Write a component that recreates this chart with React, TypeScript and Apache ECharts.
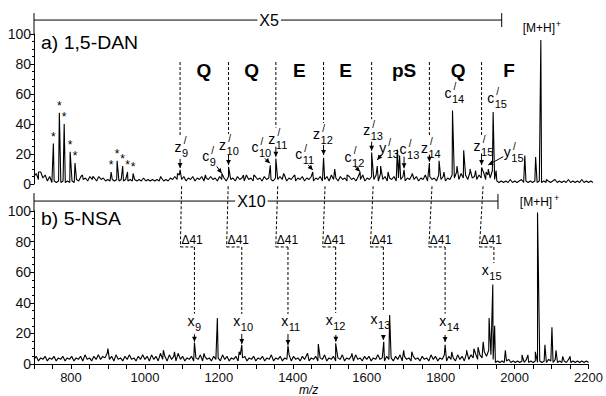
import React, { useEffect, useRef } from 'react';
import * as echarts from 'echarts';

const FONT = '"Liberation Sans", Arial, Helvetica, sans-serif';

// m/z axis
const MZ_MIN = 700;
const MZ_MAX = 2200;
const NOISE_START = 700;
const NOISE_STEP = 6;

// a) 1,5-DAN : baseline noise (one value every 6 m/z from 700)
const noiseA = [
  5, 7, 3, 8, 4, 6, 2, 5, 1, 2,
  1, 2, 1, 2, 1, 2, 1, 2, 1, 3,
  2, 5, 3, 4, 2, 5, 3, 4, 2, 5,
  3, 4, 2, 3, 2, 3, 2, 3, 2, 3,
  2, 3, 2, 3, 2, 3, 2, 3, 2, 4,
  2, 3, 2, 3, 2, 3, 2, 4, 2, 3,
  2, 4, 3, 5, 3, 6, 3, 5, 2, 4,
  3, 5, 2, 4, 3, 5, 2, 4, 3, 5,
  3, 4, 2, 5, 3, 4, 2, 5, 3, 4,
  2, 5, 3, 4, 2, 6, 3, 4, 2, 5,
  3, 4, 2, 5, 3, 4, 3, 2, 4, 3,
  5, 3, 6, 2, 4, 3, 5, 2, 4, 3,
  5, 2, 4, 3, 5, 2, 4, 3, 5, 2,
  3, 5, 2, 6, 3, 4, 2, 5, 3, 4,
  2, 5, 3, 4, 2, 5, 3, 6, 2, 4,
  3, 5, 3, 6, 2, 7, 3, 5, 2, 4,
  3, 5, 2, 4, 3, 5, 2, 4, 3, 6,
  3, 5, 2, 4, 3, 6, 2, 5, 3, 4,
  2, 6, 3, 5, 2, 4, 3, 6, 4, 8,
  3, 7, 4, 6, 3, 8, 4, 5, 3, 6,
  4, 8, 3, 6, 4, 9, 3, 2, 1, 2,
  1, 2, 1, 3, 1, 2, 1, 2, 3, 1,
  2, 1, 2, 1, 2, 1, 2, 1, 2, 1,
  2, 1, 2, 3, 1, 2, 1, 2, 1, 3,
  1, 2, 1, 2, 1, 3, 1, 2, 1, 2,
  1,
];

// a) 1,5-DAN : peaks [m/z, relative intensity]
const peaksA: [number, number][] = [
  [712, 8], [752, 27], [768, 47.5], [781, 40], [797, 21.5], [810, 14], [830, 6], [858, 5],
  [907, 8], [923, 15.5], [938, 12], [951, 8], [966, 7], [1040, 5], [1085, 7], [1092, 9.5],
  [1160, 6], [1204, 7], [1222, 11.5], [1262, 6], [1290, 6], [1334, 12.5], [1349, 17],
  [1370, 7], [1400, 6], [1448, 8], [1477, 17.5], [1507, 10], [1540, 6], [1575, 8],
  [1606, 21], [1621, 12], [1630, 12], [1650, 8], [1675, 23], [1681, 19], [1693, 9.5],
  [1715, 7], [1761, 14], [1787, 15.5], [1800, 8], [1823, 49], [1835, 12], [1853, 22.5],
  [1870, 10], [1885, 9], [1901, 11], [1913, 8], [1919, 10], [1932, 48], [1940, 9],
  [2017, 19], [2046, 18], [2060, 96], [2075, 3],
];

// peaks marked with * in panel a)
const starMzA = [752, 768, 781, 797, 810, 907, 923, 938, 951, 966];

// b) 5-NSA : baseline noise
const noiseB = [
  3, 5, 2, 4, 3, 5, 2, 4, 3, 5,
  2, 4, 3, 5, 2, 4, 3, 5, 2, 4,
  3, 5, 2, 6, 3, 4, 2, 5, 3, 6,
  3, 5, 4, 7, 3, 5, 2, 6, 3, 4,
  2, 5, 3, 6, 3, 4, 2, 5, 3, 6,
  3, 5, 2, 6, 3, 5, 2, 7, 3, 5,
  2, 6, 3, 5, 2, 7, 3, 5, 2, 4,
  3, 5, 2, 4, 3, 6, 2, 5, 3, 4,
  2, 5, 3, 4, 2, 6, 3, 5, 2, 4,
  3, 5, 2, 6, 4, 5, 2, 4, 3, 5,
  2, 4, 3, 5, 2, 4, 3, 6, 2, 4,
  3, 5, 2, 4, 3, 6, 2, 5, 3, 4,
  2, 5, 3, 6, 2, 4, 3, 5, 2, 4,
  3, 6, 2, 4, 3, 5, 2, 4, 3, 6,
  2, 4, 3, 5, 2, 6, 3, 4, 2, 5,
  3, 5, 2, 4, 3, 6, 3, 4, 2, 5,
  3, 4, 2, 5, 3, 6, 2, 5, 3, 4,
  2, 5, 3, 4, 2, 5, 3, 4, 2, 6,
  3, 5, 2, 4, 3, 6, 2, 5, 3, 4,
  2, 6, 3, 5, 2, 7, 3, 6, 4, 7,
  3, 6, 4, 8, 5, 9, 6, 3, 1, 2,
  1, 2, 1, 2, 3, 1, 2, 1, 2, 1,
  2, 1, 3, 1, 2, 1, 2, 1, 2, 1,
  2, 1, 3, 2, 1, 3, 1, 2, 1, 2,
  1, 3, 1, 2, 1, 2, 1, 2, 1, 2,
  1,
];

// b) 5-NSA : peaks
const peaksB: [number, number][] = [
  [900, 10], [1050, 9], [1080, 8], [1134, 14], [1160, 7], [1196, 30], [1255, 8], [1262, 12.5],
  [1387, 12], [1440, 7], [1469, 13], [1516, 13.5], [1560, 7], [1646, 14.5], [1662, 32],
  [1700, 9], [1722, 8], [1812, 12.5], [1830, 8], [1870, 9], [1890, 10], [1901, 11],
  [1915, 14.5], [1931, 30], [1941, 52], [1946, 25], [1975, 9], [2020, 6], [2036, 6],
  [2056, 8], [2062, 99], [2082, 12.5], [2101, 24], [2112, 9], [2130, 5], [2150, 5],
];

// y tick labels
const yTicks = [0, 20, 40, 60, 80, 100];
const xLabelStep = 200;

// sequence annotation
const seqLetters = ['Q', 'Q', 'E', 'E', 'pS', 'Q', 'F'];
const seqLetterMz = [1156, 1284, 1412, 1536, 1693, 1838, 1975];
const cleaveMzTop = [1092, 1222, 1349, 1477, 1606, 1761, 1901];
const cleaveMzBottom = [1096, 1221, 1354, 1481, 1610, 1768, 1905];
const bracketRightMz = [1134, 1262, 1387, 1516, 1645, 1812, 1944];

// ion labels: [letter, subscript, prime, tipMz, tipIntensity, labelDx, labelDy, arrowDx, arrowDy]
type Ion = [string, string, boolean, number, number, number, number, number | null, number | null];
const ionsTop: Ion[] = [
  ['z', '9', true, 1092, 10.7, -2, -20, 0, -9],
  ['c', '9', true, 1203.7, 7.1, -16, -16, -5, -7],
  ['z', '10', true, 1222, 12.7, -6, -19, 0, -10],
  ['c', '10', true, 1333, 13.8, -15, -15, -5, -5],
  ['z', '11', true, 1349, 18.2, -4, -17, 0, -10],
  ['c', '11', true, 1448, 9.3, -14, -15, -4.5, -5],
  ['z', '12', true, 1477, 19.3, -7, -20, 0, -10],
  ['c', '12', true, 1575, 8.2, -12, -14, -5, -5],
  ['z', '13', true, 1606, 22.2, -5, -19.5, 0, -9],
  ['y', '13', true, 1621, 16, 5.5, -11, 4, -5],
  ['c', '13', true, 1693, 10.5, -1, -18, 0, -11.5],
  ['z', '14', true, 1761, 14.9, -5, -13, 0, -7],
  ['c', '14', true, 1823, 49, -4.5, -17, null, null],
  ['z', '15', true, 1901, 12.7, -4.5, -18, 0, -11.5],
  ['y', '15', true, 1919, 12.7, 19, -11.7, 15, -8.3],
  ['c', '15', true, 1932, 48, -2.5, -13.5, null, null],
];
const ionsBottom: Ion[] = [
  ['x', '9', false, 1134, 14.6, -3.4, -20, 0, -7.4],
  ['x', '10', false, 1262, 13.1, -5, -22, 0, -10],
  ['x', '11', false, 1387, 12.4, -3.3, -23, 0, -11],
  ['x', '12', false, 1516.5, 14.6, -6.6, -20.7, 0, -6.7],
  ['x', '13', false, 1645, 15.7, -9.3, -20, 0, -5],
  ['x', '14', false, 1812, 14.4, -2.3, -20.3, 0, -7],
  ['x', '15', false, 1941.5, 51.6, -7.7, -14, null, null],
];

const buildSpectrum = (noise: number[], peaks: [number, number][]) => {
  const pts: [number, number][] = noise.map((v, i) => [NOISE_START + i * NOISE_STEP, v]);
  return pts.concat(peaks).sort((a, b) => a[0] - b[0]);
};

const yAxisBase = (gridIndex: number) => ({
  gridIndex,
  type: 'value',
  min: 0,
  max: 100,
  interval: 20,
  axisLine: { show: true, lineStyle: { color: '#000', width: 1 } },
  axisTick: { show: true, length: 4, lineStyle: { color: '#000' } },
  minorTick: { show: true, splitNumber: 4, length: 2, lineStyle: { color: '#000' } },
  axisLabel: {
    color: '#111', fontSize: 14, fontFamily: FONT, margin: 3,
    formatter: (v: number) => (yTicks.includes(v) ? String(v) : ''),
  },
  splitLine: { show: false },
});

export default function App() {
  const ref = useRef<HTMLDivElement>(null);
  useEffect(() => {
    if (!ref.current) return;
    const chart = echarts.init(ref.current, null, { renderer: 'svg' });
    const lineSeries = (idx: number, data: [number, number][]) => ({
      type: 'line', xAxisIndex: idx, yAxisIndex: idx, data, symbol: 'none', showSymbol: false,
      lineStyle: { color: '#000', width: 1.1 }, silent: true, clip: false,
    });
    chart.setOption({
      animation: false,
      backgroundColor: '#fff',
      grid: [
        { left: 34, right: 13, top: 34, height: 150 },
        { left: 34, right: 13, top: 211, height: 153 },
      ],
      xAxis: [
        { gridIndex: 0, type: 'value', min: MZ_MIN, max: MZ_MAX, show: false },
        {
          gridIndex: 1, type: 'value', min: MZ_MIN, max: MZ_MAX, interval: 100,
          axisLine: { lineStyle: { color: '#000', width: 1 } },
          axisTick: { length: 5, lineStyle: { color: '#000' } },
          minorTick: { show: true, splitNumber: 2, length: 5, lineStyle: { color: '#000' } },
          axisLabel: {
            color: '#111', fontSize: 13, fontFamily: FONT, margin: 7,
            formatter: (v: number) => (v % xLabelStep === 0 ? String(v) : ''),
          },
          splitLine: { show: false },
        },
      ],
      yAxis: [yAxisBase(0), yAxisBase(1)],
      series: [lineSeries(0, buildSpectrum(noiseA, peaksA)), lineSeries(1, buildSpectrum(noiseB, peaksB))],
    });

    const P = (g: number, mz: number, v: number) => chart.convertToPixel({ gridIndex: g }, [mz, v]) as number[];
    const els: any[] = [];
    const line = (x1: number, y1: number, x2: number, y2: number, dashed: boolean) => {
      const style: any = { stroke: '#000', lineWidth: 1 };
      if (dashed) style.lineDash = [3, 2];
      els.push({ type: 'line', silent: true, shape: { x1, y1, x2, y2 }, style });
    };
    const arrow = (x1: number, y1: number, x2: number, y2: number) => {
      line(x1, y1, x2, y2, false);
      const dx = x2 - x1, dy = y2 - y1, L = Math.hypot(dx, dy) || 1;
      const ux = dx / L, uy = dy / L, hl = 5, hw = 2.4;
      const bx = x2 - ux * hl, by = y2 - uy * hl;
      els.push({
        type: 'polygon', silent: true,
        shape: { points: [[x2, y2], [bx - uy * hw, by + ux * hw], [bx + uy * hw, by - ux * hw]] },
        style: { fill: '#000' },
      });
    };
    const text = (x: number, y: number, t: string, o: any = {}) => {
      els.push({
        type: 'text', silent: true, x, y, scaleX: o.scaleX || 1,
        style: {
          text: t, fill: '#000', fontFamily: FONT, fontSize: o.fontSize || 13,
          fontWeight: o.fontWeight || 'normal', fontStyle: o.fontStyle || 'normal',
          align: o.align || 'center', verticalAlign: o.verticalAlign || 'middle',
          backgroundColor: o.bg, padding: o.padding,
        },
      });
    };
    const labelPos: number[][][] = [[], []];
    const drawIons = (g: number, ions: Ion[]) => {
      ions.forEach(([t, s, prime, mz, v, lx, ly, ax, ay]) => {
        const [tx, ty] = P(g, mz, v);
        const cx = tx + lx, cy = ty + ly;
        labelPos[g].push([cx, cy]);
        text(cx, cy - 1, t, { fontSize: 14 });
        text(cx + 4, cy + 5, s, { fontSize: 11, align: 'left' });
        if (prime) text(cx + 7, cy - 7, '/', { fontSize: 10 });
        if (ax !== null && ay !== null) arrow(tx + ax, ty + ay, tx, ty);
      });
    };
    drawIons(0, ionsTop);
    drawIons(1, ionsBottom);

    // asterisks over marked peaks
    starMzA.forEach((mz) => {
      const pk = peaksA.find((p) => p[0] === mz);
      if (!pk) return;
      const [sx, sy] = P(0, pk[0], pk[1]);
      text(sx, sy - 1, '*', { fontSize: 12, verticalAlign: 'bottom' });
    });

    // panel titles
    const a0 = P(0, MZ_MIN, 100);
    text(a0[0] + 7, a0[1] + 9, 'a) 1,5-DAN', { fontSize: 18, align: 'left', scaleX: 1.08 });
    const b0 = P(1, MZ_MIN, 100);
    text(b0[0] + 7, b0[1] + 8, 'b) 5-NSA', { fontSize: 18, align: 'left', scaleX: 1.08 });

    // [M+H]+ labels
    const m0 = P(0, 2060, 96);
    text(m0[0] - 2, m0[1] - 12, '[M+H]', { fontSize: 12 });
    text(m0[0] + 17.5, m0[1] - 16, '+', { fontSize: 9 });
    const m1 = P(1, 2062, 99);
    text(m1[0] - 1.5, m1[1] - 11, '[M+H]', { fontSize: 12 });
    text(m1[0] + 19, m1[1] - 15, '+', { fontSize: 9 });

    // X5 / X10 brackets
    const x5l = P(0, MZ_MIN, 109.3), x5r = P(0, 1955, 109.3), x5t = P(0, MZ_MIN, 100);
    line(x5l[0], x5l[1], x5r[0], x5r[1], false);
    line(x5l[0], x5l[1] - 7, x5l[0], x5t[1], false);
    line(x5r[0], x5r[1] - 7, x5r[0], x5r[1] + 7, false);
    const x10l = P(1, MZ_MIN, 106.5), x10r = P(1, 1955, 106.5), x10t = P(1, MZ_MIN, 100);
    line(x10l[0], x10l[1], x10r[0], x10r[1], false);
    line(x10l[0], x10l[1] - 8, x10l[0], x10t[1], false);
    line(x10r[0], x10r[1] - 7, x10r[0], x10r[1] + 8, false);

    // sequence dashed lines, letters and Δ41 brackets
    const zIdx = ionsTop.map((d, i) => (d[0] === 'z' ? i : -1)).filter((i) => i >= 0);
    cleaveMzTop.forEach((mz, k) => {
      const top = P(0, mz, 81.3);
      const zl = labelPos[0][zIdx[k]];
      line(top[0], top[1], top[0], zl[1] - 12, true);
      const lowTop = P(0, cleaveMzBottom[k], -1.5);
      const br = P(1, cleaveMzBottom[k], 76.5);
      const brR = P(1, bracketRightMz[k], 76.5);
      line(lowTop[0], lowTop[1], br[0], br[1], true);
      line(br[0], br[1], brR[0], brR[1], true);
      const xl = labelPos[1][k];
      line(brR[0], brR[1], brR[0], xl[1] - 8, true);
      text(br[0] + 1, br[1] - 1, 'Δ41', { fontSize: 12, align: 'left', verticalAlign: 'bottom' });
    });
    seqLetters.forEach((s, k) => {
      const p = P(0, seqLetterMz[k], 75.5);
      text(p[0], p[1], s, { fontSize: 19, fontWeight: 'bold' });
    });

    const t5 = P(0, 1331, 109.3);
    text(t5[0], t5[1], 'X5', { fontSize: 16, bg: '#fff', padding: [0, 2] });
    const t10 = P(1, 1288, 106.5);
    text(t10[0], t10[1], 'X10', { fontSize: 16, bg: '#fff', padding: [0, 2] });

    const mzl = P(1, 1443, 0);
    text(mzl[0], mzl[1] + 26, 'm/z', { fontSize: 12, fontStyle: 'italic' });

    chart.setOption({ graphic: els });
    return () => chart.dispose();
  }, []);
  return (
    <div
      ref={ref}
      style={{ position: 'fixed', left: 0, top: 0, width: 606, height: 396, background: '#fff' }}
    />
  );
}
